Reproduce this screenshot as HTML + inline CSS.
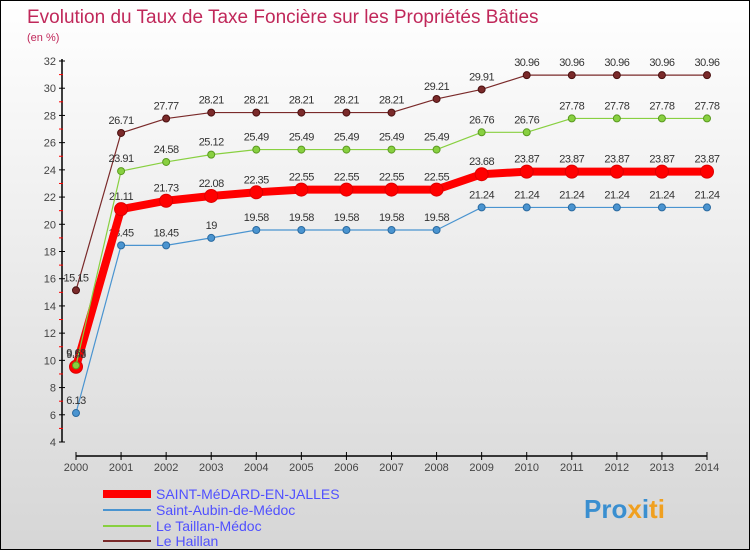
<!DOCTYPE html>
<html><head><meta charset="utf-8"><style>
body{margin:0}
#c{width:748px;height:548px;border:1px solid #000;background:linear-gradient(#ffffff,#d6d6d6);position:relative;overflow:hidden;font-family:"Liberation Sans",sans-serif}
svg{position:absolute;left:0;top:0}
</style></head><body>
<div id="c">
<svg id="s" width="750" height="550" xmlns="http://www.w3.org/2000/svg">
<text x="26" y="22" font-size="19" fill="#c0285a">Evolution du Taux de Taxe Foncière sur les Propriétés Bâties</text>
<text x="26" y="40" font-size="11" fill="#c0285a">(en %)</text>
<g id="axes"></g><g id="series"></g>
<g>
<line x1="102" y1="493" x2="150" y2="493" stroke="#f00" stroke-width="8"/>
<text x="155" y="498" font-size="14" fill="#5050ff">SAINT-MéDARD-EN-JALLES</text>
<line x1="102" y1="509" x2="150" y2="509" stroke="#4a94d0" stroke-width="2"/>
<text x="155" y="514" font-size="14" fill="#5050ff">Saint-Aubin-de-Médoc</text>
<line x1="102" y1="525" x2="150" y2="525" stroke="#88d040" stroke-width="2"/>
<text x="155" y="530" font-size="14" fill="#5050ff">Le Taillan-Médoc</text>
<line x1="102" y1="540" x2="150" y2="540" stroke="#7a2a2a" stroke-width="2"/>
<text x="155" y="545" font-size="14" fill="#5050ff">Le Haillan</text>
</g>
<text x="583" y="517" font-size="26" font-weight="bold" fill="#3a8fd0">Pro<tspan fill="#f0a020">x</tspan><tspan fill="#3a8fd0">i</tspan><tspan fill="#f0a020">ti</tspan></text>
</svg></div>
<script>
const years=[2000,2001,2002,2003,2004,2005,2006,2007,2008,2009,2010,2011,2012,2013,2014];
const saintMedard=[9.53,21.11,21.73,22.08,22.35,22.55,22.55,22.55,22.55,23.68,23.87,23.87,23.87,23.87,23.87];
const saintAubin=[6.13,18.45,18.45,19,19.58,19.58,19.58,19.58,19.58,21.24,21.24,21.24,21.24,21.24,21.24];
const leTaillan=[9.63,23.91,24.58,25.12,25.49,25.49,25.49,25.49,25.49,26.76,26.76,27.78,27.78,27.78,27.78];
const leHaillan=[15.15,26.71,27.77,28.21,28.21,28.21,28.21,28.21,29.21,29.91,30.96,30.96,30.96,30.96,30.96];
const yTicks=[4,6,8,10,12,14,16,18,20,22,24,26,28,30,32];
const NS="http://www.w3.org/2000/svg";
const xs=i=>75+i*(631/14);
const ys=v=>441-(v-4)*(381/28);
function mk(t,a,p){const e=document.createElementNS(NS,t);for(const k in a)e.setAttribute(k,a[k]);p.appendChild(e);return e;}
const ax=document.getElementById('axes');
let yl=mk('line',{x1:61,y1:ys(32)-2,x2:61,y2:ys(4),stroke:'#000','stroke-width':1.5},ax);


let xl=mk('line',{x1:75,y1:455,x2:706,y2:455,stroke:'#000','stroke-width':1.5},ax);


yTicks.forEach(v=>{
  mk('line',{x1:58,y1:ys(v),x2:64,y2:ys(v),stroke:'#000'},ax);
  if(v<32)mk('line',{x1:58,y1:ys(v+1),x2:62,y2:ys(v+1),stroke:'#f00'},ax);
  const t=mk('text',{x:55,y:ys(v)+4,'font-size':11,fill:'#444','text-anchor':'end'},ax);
  t.textContent=v;
  
  
});
years.forEach((y,i)=>{
  mk('line',{x1:xs(i),y1:451,x2:xs(i),y2:459,stroke:'#000'},ax);
  const t=mk('text',{x:xs(i),y:470,'font-size':11,fill:'#444','text-anchor':'middle'},ax);
  t.textContent=y;
  
  
});
const sg=document.getElementById('series');
function draw(vals,color,w,r,name,stroke){
  const g=mk('g',{},sg);
  
  
  const pl=mk('polyline',{points:vals.map((v,i)=>xs(i)+','+ys(v)).join(' '),fill:'none',stroke:color,'stroke-width':w,'stroke-linejoin':'round'},g);
  
  
  vals.forEach((v,i)=>{
    const c=mk('circle',{cx:xs(i),cy:ys(v),r:r,fill:color,stroke:stroke,'stroke-width':1},g);
    
    
    const t=mk('text',{x:xs(i),y:ys(v)-9,'font-size':11,fill:'#333','text-anchor':'middle','letter-spacing':'-0.5'},g);
    t.textContent=v;
    
    
  });
}
draw(leHaillan,'#7a2a2a',1.2,3.5,'le-haillan','#4a1010');
draw(saintAubin,'#4a94d0',1.2,3.5,'saint-aubin','#2a6aa0');
draw(saintMedard,'#f00',8,6.5,'saint-medard','#d00');
draw(leTaillan,'#88d040',1.2,3.5,'le-taillan','#5a9a20');
</script>
</body></html>
